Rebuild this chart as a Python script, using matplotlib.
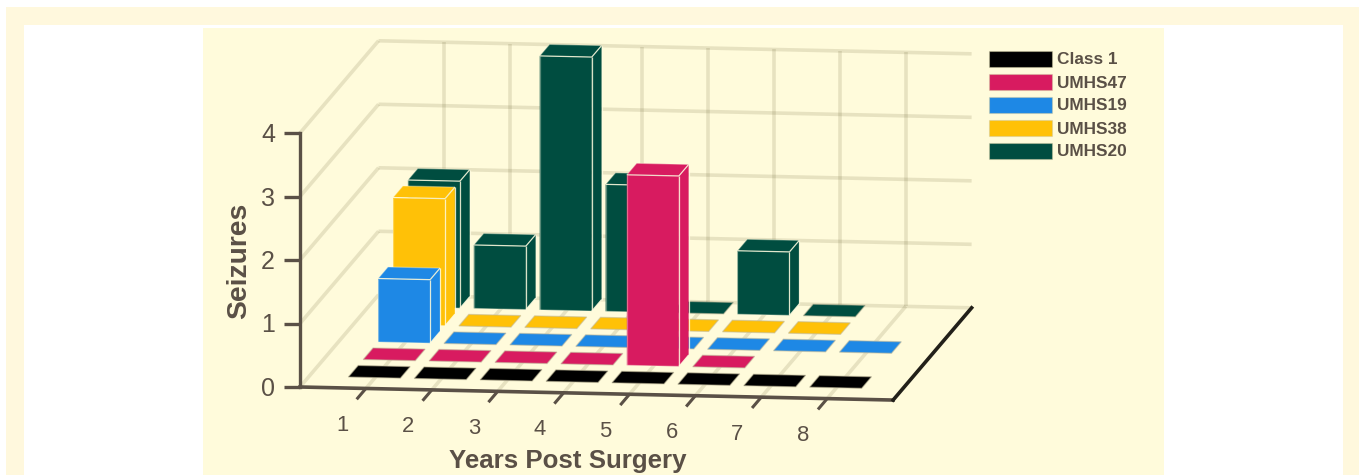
import matplotlib
matplotlib.use("Agg")
import matplotlib.pyplot as plt
from matplotlib.patches import Polygon, Rectangle

years = [1, 2, 3, 4, 5, 6, 7, 8]
seizure_ticks = [0, 1, 2, 3, 4]
nan = float("nan")

series_names = ["Class 1", "UMHS47", "UMHS19", "UMHS38", "UMHS20"]
series_colors = ["#000000", "#D81B60", "#1E88E5", "#FFC107", "#004D40"]
class1 = [0, 0, 0, 0, 0, 0, 0, 0]
umhs47 = [0, 0, 0, 0, 3, 0, nan, nan]
umhs19 = [1, 0, 0, 0, 0, 0, 0, 0]
umhs38 = [2, 0, 0, 0, 0, 0, 0, nan]
umhs20 = [2, 1, 4, 2, 0, 1, 0, nan]
series_values = [class1, umhs47, umhs19, umhs38, umhs20]

TEXT = "#5A5046"
GRID = (0.35, 0.31, 0.12, 0.14)
PANEL = "#FFFBDB"
BAND = "#FFF8DD"
plt.rcParams["font.family"] = ["Liberation Sans", "DejaVu Sans"]

# Oblique projection of (category, row depth, value) on to the canvas
ORIGIN = (300.0, 387.0)
X_VEC = (65.9, 1.45)
D_VEC = (14.9, -17.5)
V_VEC = (0.0, -63.5)
X_MAX = 9.0
D_MAX = 5.27
V_MAX = 4.0
BAR_W = 0.79
BAR_D = 0.66
BAR_SHIFT = -0.012
ROW_OFFSET = 0.62


def proj(x, d, v):
    return (ORIGIN[0] + x * X_VEC[0] + d * D_VEC[0] + v * V_VEC[0],
            ORIGIN[1] + x * X_VEC[1] + d * D_VEC[1] + v * V_VEC[1])


fig = plt.figure(figsize=(13.59, 4.75), dpi=100, facecolor="white")
ax = fig.add_axes([0, 0, 1, 1])
ax.set_xlim(0, 1359)
ax.set_ylim(475, 0)
ax.axis("off")

# Page frame and chart panel
ax.add_patch(Rectangle((6, 7), 1353, 468, fc=BAND, ec="none", zorder=0))
ax.add_patch(Rectangle((24, 24.5), 1319, 451, fc="white", ec="none", zorder=0.1))
ax.add_patch(Rectangle((203, 28), 961, 447, fc=PANEL, ec="none", zorder=0.2))


def line(p, q, color, lw, z=1.0, cap="butt"):
    ax.plot([p[0], q[0]], [p[1], q[1]], color=color, lw=lw, zorder=z,
            solid_capstyle=cap)


# Walls and floor gridlines
for v in seizure_ticks:
    line(proj(0, 0, v), proj(0, D_MAX, v), GRID, 2.6)
    line(proj(0, D_MAX, v), proj(X_MAX, D_MAX, v), GRID, 2.6)
for x in years:
    line(proj(x, D_MAX, 0), proj(x, D_MAX, V_MAX), GRID, 2.6)
    line(proj(x, 0, 0), proj(x, D_MAX, 0), GRID, 2.6)

# Axes
line(proj(0, 0, 0), proj(0, 0, V_MAX), TEXT, 2.4, 2, "projecting")
line(proj(0, 0, 0), proj(X_MAX, 0, 0), TEXT, 2.6, 2, "projecting")
line(proj(X_MAX, 0, 0), proj(X_MAX, D_MAX, 0), "#222019", 2.6, 2, "projecting")
for v in seizure_ticks:
    p = proj(0, 0, v)
    line((p[0] - 16, p[1]), p, TEXT, 2.4, 2)
    ax.text(p[0] - 25, p[1] + 2, str(v), ha="right", va="center",
            fontsize=18.0, color=TEXT)
for x in years:
    line(proj(x, 0, 0), proj(x, -0.62, 0), TEXT, 2.2, 2)
    lx, ly = proj(x, -1.6, -0.14)
    ax.text(lx, ly, str(x), ha="center", va="center", fontsize=15.8, color=TEXT)

ax.text(568, 461, "Years Post Surgery", ha="center", va="center",
        fontsize=18.6, fontweight="bold", color=TEXT)
ax.text(239, 260.5, "Seizures", ha="center", va="center", rotation=90,
        fontsize=20.3, fontweight="bold", color=TEXT)


def face(points, color, z):
    ax.add_patch(Polygon(points, closed=True, fc=color, ec="none", zorder=z))


def draw_bar(x, row, value, color, z):
    x0, x1 = x + BAR_SHIFT - BAR_W / 2, x + BAR_SHIFT + BAR_W / 2
    d0 = row + ROW_OFFSET
    d1 = d0 + BAR_D
    edge = (1, 0.99, 0.88, 0.85)
    soft = (1, 0.99, 0.88, 0.35)
    if value == 0:
        pts = [proj(x0, d0, 0), proj(x1, d0, 0), proj(x1, d1, 0), proj(x0, d1, 0)]
        ax.add_patch(Polygon(pts, closed=True, fc=color, ec=(0.75, 0.72, 0.6, 0.55),
                             lw=0.9, zorder=z))
        return
    face([proj(x1, d0, 0), proj(x1, d1, 0), proj(x1, d1, value), proj(x1, d0, value)], color, z)
    face([proj(x0, d0, value), proj(x1, d0, value), proj(x1, d1, value), proj(x0, d1, value)], color, z)
    face([proj(x0, d0, 0), proj(x1, d0, 0), proj(x1, d0, value), proj(x0, d0, value)], color, z)
    zl = z + 0.01
    line(proj(x0, d0, value), proj(x1, d0, value), edge, 0.9, zl)
    line(proj(x1, d0, 0), proj(x1, d0, value), edge, 0.9, zl)
    line(proj(x1, d0, value), proj(x1, d1, value), edge, 0.9, zl)
    line(proj(x1, d1, 0), proj(x1, d1, value), edge, 0.9, zl)
    line(proj(x1, d0, 0), proj(x1, d1, 0), edge, 0.9, zl)
    line(proj(x0, d0, value), proj(x0, d1, value), soft, 0.9, zl)
    line(proj(x0, d1, value), proj(x1, d1, value), soft, 0.9, zl)
    line(proj(x0, d0, 0), proj(x1, d0, 0), soft, 0.9, zl)
    line(proj(x0, d0, 0), proj(x0, d0, value), soft, 0.9, zl)


# Back rows first so nearer bars cover them
for row in reversed(range(len(series_values))):
    for year, value in zip(years, series_values[row]):
        if value == value:
            draw_bar(year, row, value, series_colors[row], 3 + (4 - row))

# Legend
for i, (name, color) in enumerate(zip(series_names, series_colors)):
    y = 51 + i * 23
    ax.add_patch(Rectangle((989.3, y), 63, 16, fc=color,
                           ec=(0.8, 0.78, 0.62, 0.45), lw=0.8, zorder=3))
    ax.text(1057, y + 9, name, ha="left", va="center", fontsize=12.4,
            fontweight="bold", color=TEXT)

fig.savefig("out.png", dpi=100, facecolor="white")
